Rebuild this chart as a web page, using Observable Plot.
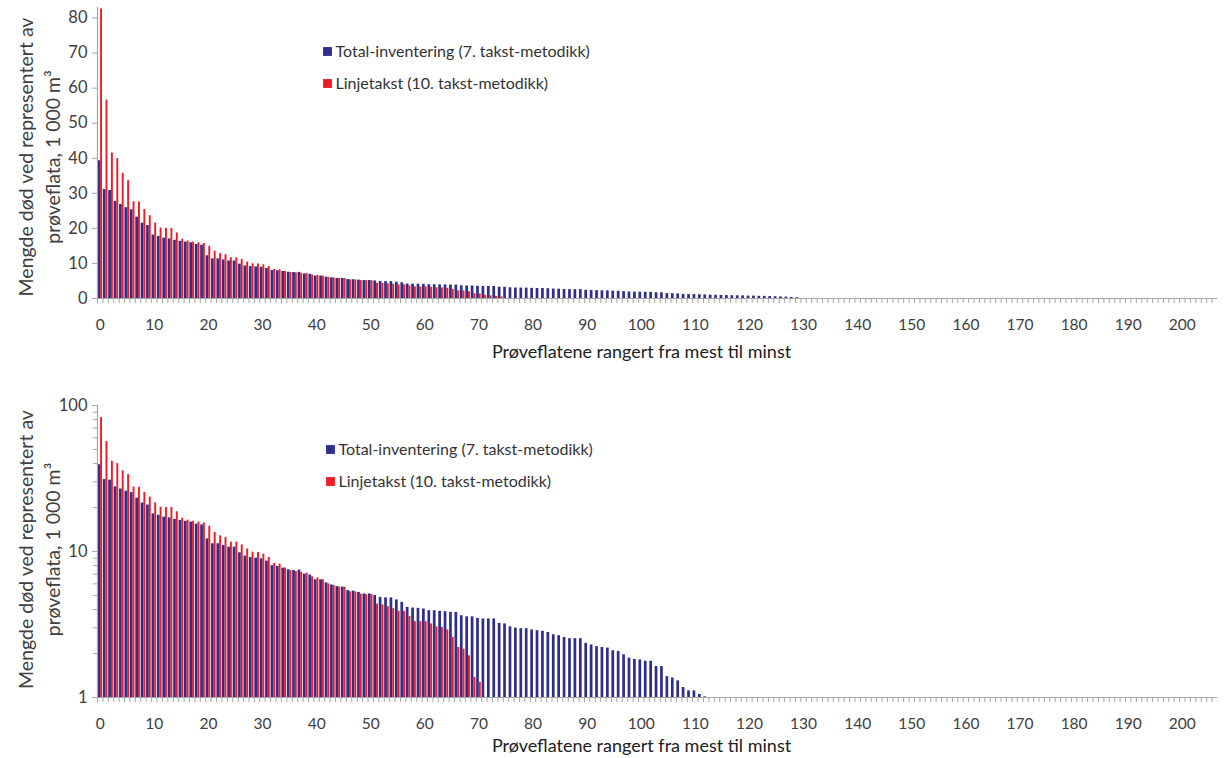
<!DOCTYPE html>
<html><head><meta charset="utf-8">
<script src="https://cdn.jsdelivr.net/npm/d3@7"></script>
<script src="https://cdn.jsdelivr.net/npm/@observablehq/plot@0.6"></script>
<style>
body{margin:0;background:#fff;}
#c{position:relative;width:1230px;height:758px;overflow:hidden;}
#c svg{position:absolute;left:0;}
</style>
</head><body><div id="c"></div>
<script>
// ---- data ----
const nCategories = 207;
const totalInventering = [
  39.3, 31.1, 30.8, 27.7, 26.8, 25.9, 25.3, 23.2, 21.5, 20.8,
  18.1, 17.7, 17.2, 17.0, 16.6, 16.3, 16.1, 15.9, 15.4, 15.2,
  12.2, 11.3, 11.3, 11.0, 10.7, 10.7, 9.8, 9.3, 9.1, 9.0,
  8.9, 8.6, 8.0, 7.9, 7.7, 7.5, 7.4, 7.45, 7.0, 6.9,
  6.4, 6.4, 6.1, 5.9, 5.75, 5.7, 5.4, 5.35, 5.25, 5.12,
  5.12, 5.0, 4.85, 4.81, 4.81, 4.66, 4.49, 4.14, 4.1, 4.08,
  4.04, 3.93, 3.93, 3.89, 3.87, 3.83, 3.83, 3.63, 3.57, 3.57,
  3.48, 3.45, 3.45, 3.45, 3.22, 3.19, 3.05, 2.99, 2.96, 2.96,
  2.9, 2.87, 2.84, 2.79, 2.69, 2.65, 2.58, 2.53, 2.53, 2.53,
  2.35, 2.29, 2.23, 2.2, 2.18, 2.09, 2.07, 1.96, 1.86, 1.82,
  1.81, 1.77, 1.77, 1.63, 1.63, 1.39, 1.36, 1.3, 1.17, 1.11,
  1.11, 1.05, 1.01, 0.95, 0.92, 0.88, 0.85, 0.8, 0.78, 0.75,
  0.7, 0.68, 0.62, 0.6, 0.55, 0.5, 0.45, 0.4, 0.3, 0.2
];
const linjetakst = [
  82.6, 56.6, 41.5, 39.9, 35.7, 33.6, 27.6, 27.5, 25.4, 23.6,
  21.5, 20.1, 20.0, 20.0, 18.7, 16.9, 16.4, 16.1, 15.9, 15.7,
  14.9, 13.5, 12.8, 12.5, 11.6, 11.6, 11.1, 10.4, 9.9, 9.85,
  9.6, 9.1, 8.3, 8.2, 7.7, 7.4, 7.3, 7.2, 7.1, 6.7,
  6.6, 6.4, 6.0, 5.85, 5.7, 5.69, 5.3, 5.28, 5.1, 5.07,
  5.07, 4.37, 4.31, 4.19, 4.06, 3.89, 3.89, 3.59, 3.31, 3.31,
  3.31, 3.19, 3.05, 3.02, 2.9, 2.58, 2.2, 2.14, 1.93, 1.37,
  1.27, 0.9, 0.75, 0.6, 0.45
];
const seriesNames = ["Total-inventering (7. takst-metodikk)", "Linjetakst (10. takst-metodikk)"];
const yTitleLines = ["Mengde død ved representert av", "prøveflata, 1 000 m³"];
const xTitle = "Prøveflatene rangert fra mest til minst";
const linearTicks = [0, 10, 20, 30, 40, 50, 60, 70, 80];
const logTicks = [1, 10, 100];
const logMinorTicks = [2, 3, 4, 5, 6, 7, 8, 9, 20, 30, 40, 50, 60, 70, 80, 90];
const xTickLabels = [0, 10, 20, 30, 40, 50, 60, 70, 80, 90, 100, 110, 120, 130, 140, 150, 160, 170, 180, 190, 200];

// ---- build ----
const BLUE = "#2e2e8c";
const RED = "#ee1c25";
const GRID = "#a6a6a6";
const TXT = "#404040";
const W = 1230, ML = 97, MR = 13;
const cats = d3.range(nCategories);
const rows = cats.map(i => ({i, blue: totalInventering[i] ?? 0, red: linjetakst[i] ?? 0}));
const bw = (W - ML - MR) / nCategories;

function panel({height, marginTop, marginBottom, log, legendDx}) {
  const base = log ? 1 : 0;
  const keep = v => log ? v >= 1 : v > 0;
  return Plot.plot({
    width: W, height, marginLeft: ML, marginRight: MR, marginTop, marginBottom,
    style: {fontFamily: "Lato, 'Open Sans', sans-serif", fontSize: "15px", color: TXT, background: "#fff", overflow: "visible"},
    x: {type: "band", domain: cats, paddingInner: 0, paddingOuter: 0, axis: null, label: null},
    y: log ? {type: "log", domain: [1, 100], axis: null, label: null} : {type: "linear", domain: [0, 83], axis: null, label: null},
    marks: [
      Plot.barY(rows.filter(d => keep(d.blue)), {x: "i", y1: base, y2: "blue", fill: BLUE, insetLeft: 0.4, insetRight: bw - 3.1}),
      Plot.barY(rows.filter(d => keep(d.red)), {x: "i", y1: base, y2: "red", fill: RED, insetLeft: 3.1, insetRight: 0.4}),
      Plot.ruleY([base], {stroke: GRID, strokeWidth: 1.2}),
      Plot.ruleX([0], {x: d => d, dx: -bw / 2, stroke: GRID, strokeWidth: 1.2}),
      Plot.axisX({ticks: cats, tickFormat: () => "", tickSize: 5, dx: -bw / 2, stroke: GRID, label: null}),
      Plot.axisX({ticks: xTickLabels, tickSize: 0, tickPadding: 20, fontSize: 15.5, fill: TXT, label: null}),
      Plot.axisY({ticks: log ? logTicks : linearTicks, tickSize: 5, tickPadding: 5, fontSize: 16.5, stroke: GRID, fill: TXT, label: null}),
      ...(log ? [Plot.axisY({ticks: logMinorTicks, tickSize: 4, tickFormat: () => "", stroke: GRID, label: null})] : []),
      Plot.text([yTitleLines.join("\n")], {frameAnchor: "left", rotate: -90, dx: -60, dy: log ? -2 : 4, lineHeight: 1.38, fontSize: 19.5, fill: TXT, textAnchor: "middle", lineAnchor: "middle"}),
      Plot.text([xTitle], {frameAnchor: "bottom", dx: -16, dy: log ? 49 : 54, fontSize: 18, fill: "#202020", lineAnchor: "middle"}),
      Plot.dot([0], {frameAnchor: "top-left", dx: legendDx, dy: 44, symbol: "square", r: 5, fill: BLUE}),
      Plot.dot([0], {frameAnchor: "top-left", dx: legendDx, dy: 76, symbol: "square", r: 5, fill: RED}),
      Plot.text([seriesNames[0]], {frameAnchor: "top-left", dx: legendDx + 8, dy: 44, textAnchor: "start", lineAnchor: "middle", fontSize: 16, fill: "#333"}),
      Plot.text([seriesNames[1]], {frameAnchor: "top-left", dx: legendDx + 8, dy: 76, textAnchor: "start", lineAnchor: "middle", fontSize: 16, fill: "#333"})
    ]
  });
}

const c = document.getElementById("c");
const top1 = panel({height: 372, marginTop: 7, marginBottom: 74, log: false, legendDx: 230});
top1.style.top = "0px";
c.appendChild(top1);
const bot = panel({height: 386, marginTop: 33, marginBottom: 61, log: true, legendDx: 233});
bot.style.top = "372px";
c.appendChild(bot);
</script>
</body></html>
